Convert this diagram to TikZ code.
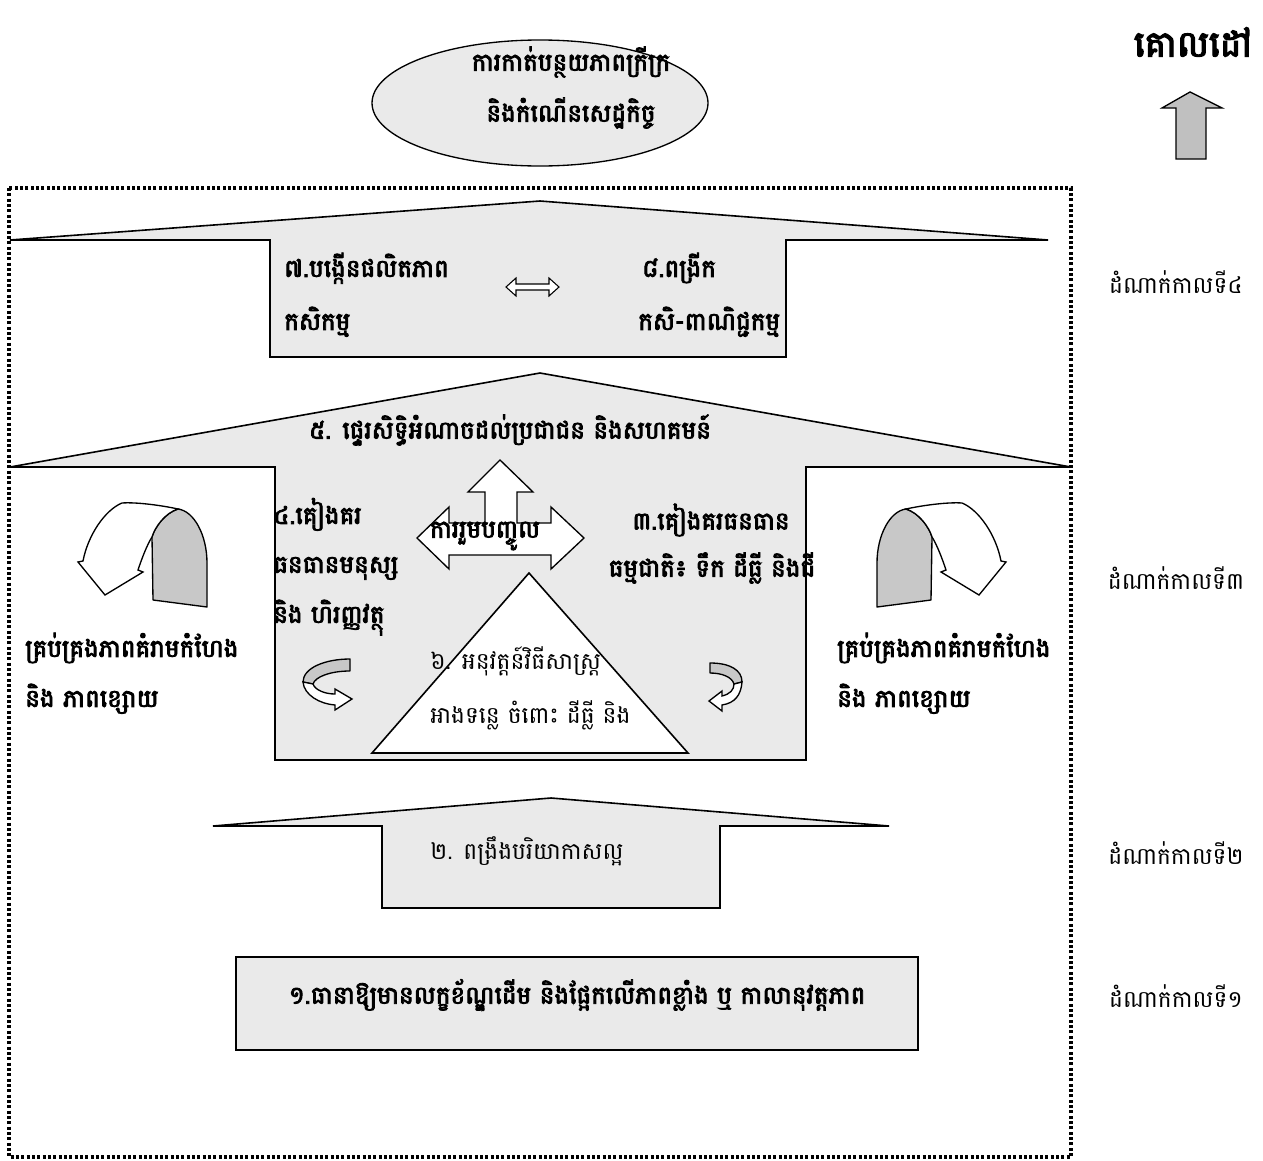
\documentclass[tikz,border=0pt]{standalone}
\usepackage{fontspec}
\usetikzlibrary{shapes.geometric}
\newfontfamily\kh[Script=Khmer,AutoFakeBold=3.5]{Battambang}
\definecolor{lg}{HTML}{EAEAEA}
\definecolor{mg}{HTML}{C8C8C8}
\definecolor{ag}{HTML}{C0C0C0}
\begin{document}
\begin{tikzpicture}[x=0.75pt,y=-0.75pt,
  shp/.style={draw=black,line width=1.2pt,fill=lg,line join=miter},
  wshp/.style={draw=black,line width=1pt,fill=white,line join=miter},
  gshp/.style={draw=black,line width=1pt,fill=mg,line join=round},
  bt/.style={font=\kh\bfseries\fontsize{18.5}{22}\selectfont,inner sep=0pt},
  rt/.style={font=\kh\fontsize{17.5}{21}\selectfont,inner sep=0pt},
  lt/.style={font=\kh\fontsize{17.5}{21}\selectfont,inner sep=0pt}]
\useasboundingbox (0,0) rectangle (1263,1160);
% outer dotted frame
\draw[line width=2.6pt,dash pattern=on 2.2pt off 1.8pt] (9,188) rectangle (1071,1157);
% goal ellipse
\node[ellipse,draw=black,fill=lg,line width=1pt,minimum width=252pt,minimum height=94.5pt,inner sep=0pt] (goal) at (540,103) {};
\node[bt] (g1) at (571,62) {ការកាត់បន្ថយភាពក្រីក្រ};
\node[bt] (g2) at (571,113) {និងកំណើនសេដ្ឋកិច្ច};
% goal label
\node[bt,font=\kh\bfseries\fontsize{27}{30}\selectfont] (goallbl) at (1193,42) {គោលដៅ};
\draw[line width=1pt,fill=ag] (1190,92) -- (1222,108) -- (1206,108) -- (1206,159) -- (1176,159) -- (1176,108) -- (1162,108) -- cycle;
% stage 4 arrow
\draw[shp] (10,240) -- (540,201) -- (1048,240) -- (786,240) -- (786,357) -- (270,357) -- (270,240) -- cycle;
\node[bt,anchor=mid west] (s7a) at (284,274) {៧.បង្កើនផលិតភាព};
\node[bt,anchor=mid west] (s7b) at (284,327) {កសិកម្ម};
\node[bt,anchor=mid west] (s8a) at (642,274) {៨.ពង្រីក};
\node[bt,anchor=mid west] (s8b) at (638,327) {កសិ-ពាណិជ្ជកម្ម};
\draw[wshp,line width=0.8pt] (506,287) -- (516,278) -- (516,284) -- (549,284) -- (549,278) -- (559,287) -- (549,296) -- (549,290) -- (516,290) -- (516,296) -- cycle;
% stage 3 arrow
\draw[shp] (10,467) -- (540,373) -- (1071,467) -- (806,467) -- (806,760) -- (275,760) -- (275,467) -- cycle;
\node[bt] (s5) at (510,430) {៥. ផ្ទេរសិទ្ធិអំណាចដល់ប្រជាជន និងសហគមន៍};
% three-way arrow
\draw[wshp] (417,538) -- (449,507) -- (449,523) -- (485,523) -- (485,492) -- (468,492) -- (500,460) -- (533,492) -- (517,492) -- (517,523) -- (551,523) -- (551,507) -- (584,538) -- (551,569) -- (551,555) -- (449,555) -- (449,569) -- cycle;
\node[bt] (part) at (485,536) {ការរួមបញ្ចូល};
% triangle
\draw[wshp,line width=1.2pt] (529,573) -- (688,753) -- (372,753) -- cycle;
\node[rt,anchor=mid west] (s6a) at (430,667) {៦. អនុវត្តន៍វិធីសាស្ត្រ};
\node[rt,anchor=mid west] (s6b) at (430,721) {អាងទន្លេ ចំពោះ ដីធ្លី និង};
% stage 3 side texts
\node[bt,anchor=mid west] (s4a) at (273,521) {៤.គៀងគរ};
\node[bt,anchor=mid west] (s4b) at (273,570) {ធនធានមនុស្ស};
\node[bt,anchor=mid west] (s4c) at (273,620) {និង ហិរញ្ញវត្ថុ};
\node[bt] (s3a) at (711,520) {៣.គៀងគរធនធាន};
\node[bt] (s3b) at (712,568) {ធម្មជាតិ៖ ទឹក ដីធ្លី និងជី};
\node[bt,anchor=mid west] (thl1) at (25,654) {គ្រប់គ្រងភាពគំរាមកំហែង};
\node[bt,anchor=mid west] (thl2) at (25,704) {និង ភាពខ្សោយ};
\node[bt,anchor=mid west] (thr1) at (837,654) {គ្រប់គ្រងភាពគំរាមកំហែង};
\node[bt,anchor=mid west] (thr2) at (837,704) {និង ភាពខ្សោយ};
% big curved arrows
\begin{scope}
\draw[gshp] (178,509) .. controls (194,511) and (207,535) .. (207,563) -- (207,607) -- (153,600) -- (152,537) .. controls (155,527) and (165,513) .. (178,509) -- cycle;
\draw[wshp] (178,509) .. controls (160,505) and (135,502) .. (122,503) .. controls (105,510) and (88,535) .. (83,561) -- (78,562) -- (105,595) -- (143,572) -- (138,570) .. controls (142,558) and (147,545) .. (152,537) .. controls (155,527) and (165,513) .. (178,509) -- cycle;
\end{scope}
\begin{scope}[shift={(1084,0)},xscale=-1]
\draw[gshp] (178,509) .. controls (194,511) and (207,535) .. (207,563) -- (207,607) -- (153,600) -- (152,537) .. controls (155,527) and (165,513) .. (178,509) -- cycle;
\draw[wshp] (178,509) .. controls (160,505) and (135,502) .. (122,503) .. controls (105,510) and (88,535) .. (83,561) -- (78,562) -- (105,595) -- (143,572) -- (138,570) .. controls (142,558) and (147,545) .. (152,537) .. controls (155,527) and (165,513) .. (178,509) -- cycle;
\end{scope}
% small curls
\draw[gshp] (350,659) .. controls (325,659) and (303,668) .. (303,682) -- (313,684) .. controls (315,677) and (330,671) .. (350,671) -- cycle;
\draw[wshp] (303,682) .. controls (304,695) and (320,704) .. (335,705) -- (335,710) -- (352,699) -- (335,689) -- (335,694) .. controls (325,694) and (315,690) .. (313,684) -- cycle;
\draw[gshp] (710,663) .. controls (730,663) and (742,670) .. (742,682) -- (734,684) .. controls (732,677) and (722,673) .. (710,673) -- cycle;
\draw[wshp] (742,682) .. controls (741,695) and (735,703) .. (722,705) -- (722,711) -- (709,701) -- (722,691) -- (722,696) .. controls (730,694) and (734,690) .. (734,684) -- cycle;
% stage 2 arrow
\draw[shp] (213,826) -- (551,798) -- (889,826) -- (720,826) -- (720,908) -- (382,908) -- (382,826) -- cycle;
\node[rt,anchor=mid west] (s2) at (430,857) {២. ពង្រឹងបរិយាកាសល្អ};
% stage 1 box
\draw[shp] (236,957) rectangle (918,1050);
\node[bt] (s1) at (577,995) {១.ធានាឱ្យមានលក្ខខ័ណ្ឌដើម និងផ្អែកលើភាពខ្លាំង ឬ កាលានុវត្តភាព};
% stage labels
\node[lt] (st4) at (1176,282) {ដំណាក់កាលទី៤};
\node[lt] (st3) at (1176,578) {ដំណាក់កាលទី៣};
\node[lt] (st2) at (1176,853) {ដំណាក់កាលទី២};
\node[lt] (st1) at (1176,996) {ដំណាក់កាលទី១};
\end{tikzpicture}
\end{document}
